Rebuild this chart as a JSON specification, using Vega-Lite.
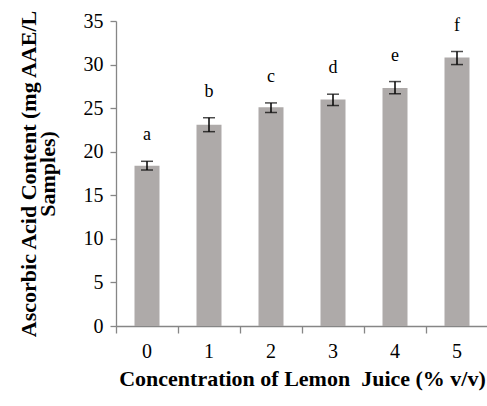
{
  "$schema": "https://vega.github.io/schema/vega-lite/v6.json",
  "autosize": "none",
  "width": 372,
  "height": 305,
  "padding": {"left": 116, "top": 21, "right": 0, "bottom": 80},
  "background": "white",
  "config": {
    "view": {"stroke": null},
    "font": "Liberation Serif",
    "axis": {
      "labelFont": "Liberation Serif",
      "titleFont": "Liberation Serif",
      "labelColor": "black",
      "titleColor": "black",
      "domainColor": "#868686",
      "tickColor": "#868686",
      "grid": false
    }
  },
  "data": {
    "values": [
      {"conc": "0", "mean": 18.4, "lo": 17.9, "hi": 18.9, "sig": "a"},
      {"conc": "1", "mean": 23.1, "lo": 22.3, "hi": 23.9, "sig": "b"},
      {"conc": "2", "mean": 25.1, "lo": 24.5, "hi": 25.6, "sig": "c"},
      {"conc": "3", "mean": 26.0, "lo": 25.3, "hi": 26.6, "sig": "d"},
      {"conc": "4", "mean": 27.3, "lo": 26.65, "hi": 28.05, "sig": "e"},
      {"conc": "5", "mean": 30.8, "lo": 30.0, "hi": 31.5, "sig": "f"}
    ]
  },
  "encoding": {
    "x": {
      "field": "conc",
      "type": "nominal",
      "sort": null,
      "scale": {"paddingInner": 0, "paddingOuter": 0},
      "axis": {
        "title": "Concentration of Lemon\u00a0 Juice (% v/v)",
        "titleFontSize": 22,
        "titleFontWeight": "bold",
        "titlePadding": 7,
        "labelAngle": 0,
        "labelFontSize": 20,
        "labelPadding": 8,
        "bandPosition": 0,
        "tickSize": 7,
        "domainWidth": 1.3,
        "tickWidth": 1.3
      }
    }
  },
  "layer": [
    {
      "mark": {"type": "bar", "color": "#AEAAA9", "width": 25},
      "encoding": {
        "y": {
          "field": "mean",
          "type": "quantitative",
          "scale": {"domain": [0, 35], "nice": false},
          "axis": {
            "title": ["Ascorbic Acid Content (mg AAE/L", "Samples)"],
            "titleFontSize": 22,
            "titleFontWeight": "bold",
            "titlePadding": 24,
            "titleLineHeight": 19,
            "values": [0, 5, 10, 15, 20, 25, 30, 35],
            "labelFontSize": 20,
            "labelPadding": 7,
            "tickSize": 6,
            "domainWidth": 1.3,
            "tickWidth": 1.3
          }
        }
      }
    },
    {
      "mark": {"type": "rule", "color": "black", "strokeWidth": 1.5},
      "encoding": {
        "y": {"field": "lo", "type": "quantitative"},
        "y2": {"field": "hi"}
      }
    },
    {
      "mark": {"type": "tick", "color": "black", "size": 12, "thickness": 1.5},
      "encoding": {"y": {"field": "lo", "type": "quantitative"}}
    },
    {
      "mark": {"type": "tick", "color": "black", "size": 12, "thickness": 1.5},
      "encoding": {"y": {"field": "hi", "type": "quantitative"}}
    },
    {
      "mark": {"type": "text", "font": "Liberation Serif", "fontSize": 18, "baseline": "middle", "dy": -26, "color": "black"},
      "encoding": {
        "y": {"field": "hi", "type": "quantitative"},
        "text": {"field": "sig"}
      }
    }
  ]
}
